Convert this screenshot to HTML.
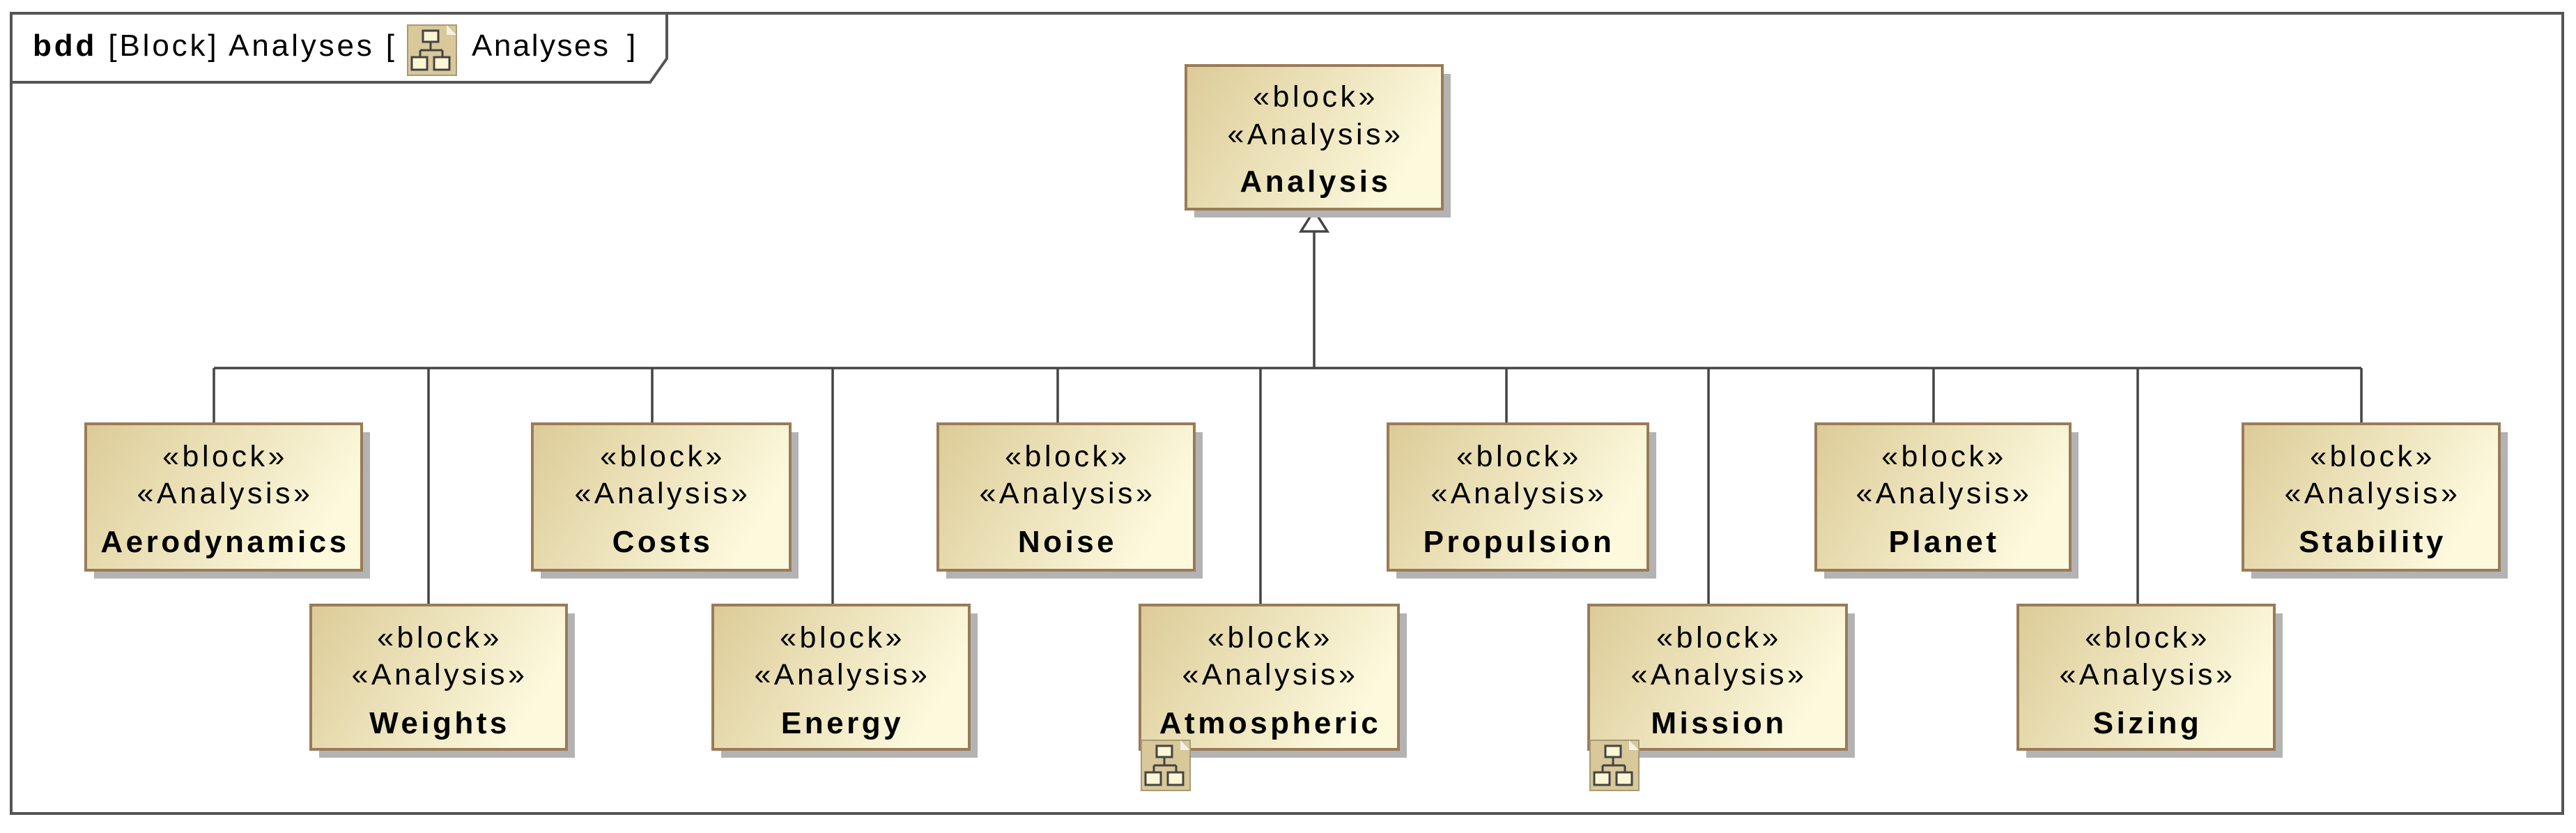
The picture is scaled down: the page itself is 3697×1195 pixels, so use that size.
<!DOCTYPE html>
<html><head><meta charset="utf-8"><style>
html,body{margin:0;padding:0;background:#fff;}
svg{display:block;}
text{font-family:"Liberation Sans",Arial,sans-serif;fill:#000;}
.b text{letter-spacing:4.5px;font-size:43px;}
.b text.n{font-size:44px;font-weight:bold;}
</style></head><body>
<svg width="3697" height="1195" viewBox="0 0 3697 1195" xmlns="http://www.w3.org/2000/svg">
<defs>
<linearGradient id="g" x1="0" y1="0" x2="1" y2="0.35">
<stop offset="0" stop-color="#dccb97"/><stop offset="1" stop-color="#fcf9dd"/>
</linearGradient>
<g id="ico">
<rect x="0" y="0" width="70" height="72" fill="#d8c89a" stroke="#a89a78" stroke-width="2"/>
<polygon points="56,0 70,14 56,14" fill="#f4f0e4"/>
<rect x="22" y="8" width="22" height="16" fill="#fdf6d4" stroke="#444" stroke-width="3"/>
<path d="M33 24 V36 M18 36 H50 M18 36 V46 M50 36 V46" stroke="#444" stroke-width="3" fill="none"/>
<rect x="6" y="46" width="22" height="18" fill="#fdf6d4" stroke="#444" stroke-width="3"/>
<rect x="38" y="46" width="22" height="18" fill="#fdf6d4" stroke="#444" stroke-width="3"/>
</g>
</defs>
<rect x="16" y="19" width="3662" height="1148" fill="none" stroke="#555" stroke-width="4"/>
<polyline points="16,118 933,118 957,84 957,19" fill="none" stroke="#555" stroke-width="4"/>
<text x="47" y="80" font-size="44" textLength="519" lengthAdjust="spacing"><tspan font-weight="bold">bdd</tspan> [Block] Analyses [</text>
<g transform="translate(585,36)"><use href="#ico"/></g>
<text x="677" y="80" font-size="44" textLength="196" lengthAdjust="spacing">Analyses</text>
<text x="900" y="80" font-size="44">]</text>

<g stroke="#444" stroke-width="3.5" fill="none">
<line x1="1886" y1="332" x2="1886" y2="528"/>
<line x1="307" y1="528" x2="3389" y2="528"/>
<line x1="307" y1="528" x2="307" y2="608"/>
<line x1="615" y1="528" x2="615" y2="868"/>
<line x1="936" y1="528" x2="936" y2="608"/>
<line x1="1195" y1="528" x2="1195" y2="868"/>
<line x1="1518" y1="528" x2="1518" y2="608"/>
<line x1="1809" y1="528" x2="1809" y2="868"/>
<line x1="2162" y1="528" x2="2162" y2="608"/>
<line x1="2452" y1="528" x2="2452" y2="868"/>
<line x1="2775" y1="528" x2="2775" y2="608"/>
<line x1="3068" y1="528" x2="3068" y2="868"/>
<line x1="3389" y1="528" x2="3389" y2="608"/>
<polygon points="1886,302 1867,332 1905,332" fill="#fff"/>
</g>

<g class="b">
<rect x="1714" y="106" width="368" height="206" fill="#b3b3b3"/>
<rect x="1702" y="94" width="368" height="206" fill="url(#g)" stroke="#9a7b57" stroke-width="4"/>
<text x="1888" y="153" text-anchor="middle">«block»</text>
<text x="1888" y="207" text-anchor="middle">«Analysis»</text>
<text class="n" x="1888" y="275" text-anchor="middle">Analysis</text>
</g>

<g class="b">
<g transform="translate(123,608)">
<rect x="12" y="12" width="396" height="210" fill="#b3b3b3"/>
<rect x="0" y="0" width="396" height="210" fill="url(#g)" stroke="#9a7b57" stroke-width="4"/>
<text x="200" y="61" text-anchor="middle">«block»</text><text x="200" y="114" text-anchor="middle">«Analysis»</text>
<text class="n" x="200" y="184" text-anchor="middle">Aerodynamics</text></g>

<g transform="translate(764,608)">
<rect x="12" y="12" width="370" height="210" fill="#b3b3b3"/>
<rect x="0" y="0" width="370" height="210" fill="url(#g)" stroke="#9a7b57" stroke-width="4"/>
<text x="187" y="61" text-anchor="middle">«block»</text><text x="187" y="114" text-anchor="middle">«Analysis»</text>
<text class="n" x="187" y="184" text-anchor="middle">Costs</text></g>

<g transform="translate(1346,608)">
<rect x="12" y="12" width="368" height="210" fill="#b3b3b3"/>
<rect x="0" y="0" width="368" height="210" fill="url(#g)" stroke="#9a7b57" stroke-width="4"/>
<text x="186" y="61" text-anchor="middle">«block»</text><text x="186" y="114" text-anchor="middle">«Analysis»</text>
<text class="n" x="186" y="184" text-anchor="middle">Noise</text></g>

<g transform="translate(1992,608)">
<rect x="12" y="12" width="373" height="210" fill="#b3b3b3"/>
<rect x="0" y="0" width="373" height="210" fill="url(#g)" stroke="#9a7b57" stroke-width="4"/>
<text x="188" y="61" text-anchor="middle">«block»</text><text x="188" y="114" text-anchor="middle">«Analysis»</text>
<text class="n" x="188" y="184" text-anchor="middle">Propulsion</text></g>

<g transform="translate(2606,608)">
<rect x="12" y="12" width="365" height="210" fill="#b3b3b3"/>
<rect x="0" y="0" width="365" height="210" fill="url(#g)" stroke="#9a7b57" stroke-width="4"/>
<text x="184" y="61" text-anchor="middle">«block»</text><text x="184" y="114" text-anchor="middle">«Analysis»</text>
<text class="n" x="184" y="184" text-anchor="middle">Planet</text></g>

<g transform="translate(3219,608)">
<rect x="12" y="12" width="368" height="210" fill="#b3b3b3"/>
<rect x="0" y="0" width="368" height="210" fill="url(#g)" stroke="#9a7b57" stroke-width="4"/>
<text x="186" y="61" text-anchor="middle">«block»</text><text x="186" y="114" text-anchor="middle">«Analysis»</text>
<text class="n" x="186" y="184" text-anchor="middle">Stability</text></g>

<g transform="translate(446,868)">
<rect x="12" y="12" width="367" height="207" fill="#b3b3b3"/>
<rect x="0" y="0" width="367" height="207" fill="url(#g)" stroke="#9a7b57" stroke-width="4"/>
<text x="185" y="61" text-anchor="middle">«block»</text><text x="185" y="114" text-anchor="middle">«Analysis»</text>
<text class="n" x="185" y="184" text-anchor="middle">Weights</text></g>

<g transform="translate(1023,868)">
<rect x="12" y="12" width="368" height="207" fill="#b3b3b3"/>
<rect x="0" y="0" width="368" height="207" fill="url(#g)" stroke="#9a7b57" stroke-width="4"/>
<text x="186" y="61" text-anchor="middle">«block»</text><text x="186" y="114" text-anchor="middle">«Analysis»</text>
<text class="n" x="186" y="184" text-anchor="middle">Energy</text></g>

<g transform="translate(1636,868)">
<rect x="12" y="12" width="371" height="207" fill="#b3b3b3"/>
<rect x="0" y="0" width="371" height="207" fill="url(#g)" stroke="#9a7b57" stroke-width="4"/>
<text x="187" y="61" text-anchor="middle">«block»</text><text x="187" y="114" text-anchor="middle">«Analysis»</text>
<text class="n" x="187" y="184" text-anchor="middle">Atmospheric</text>
<use href="#ico" x="2" y="194"/></g>

<g transform="translate(2280,868)">
<rect x="12" y="12" width="370" height="207" fill="#b3b3b3"/>
<rect x="0" y="0" width="370" height="207" fill="url(#g)" stroke="#9a7b57" stroke-width="4"/>
<text x="187" y="61" text-anchor="middle">«block»</text><text x="187" y="114" text-anchor="middle">«Analysis»</text>
<text class="n" x="187" y="184" text-anchor="middle">Mission</text>
<use href="#ico" x="2" y="194"/></g>

<g transform="translate(2896,868)">
<rect x="12" y="12" width="368" height="207" fill="#b3b3b3"/>
<rect x="0" y="0" width="368" height="207" fill="url(#g)" stroke="#9a7b57" stroke-width="4"/>
<text x="186" y="61" text-anchor="middle">«block»</text><text x="186" y="114" text-anchor="middle">«Analysis»</text>
<text class="n" x="186" y="184" text-anchor="middle">Sizing</text></g>
</g>
</svg>
</body></html>
